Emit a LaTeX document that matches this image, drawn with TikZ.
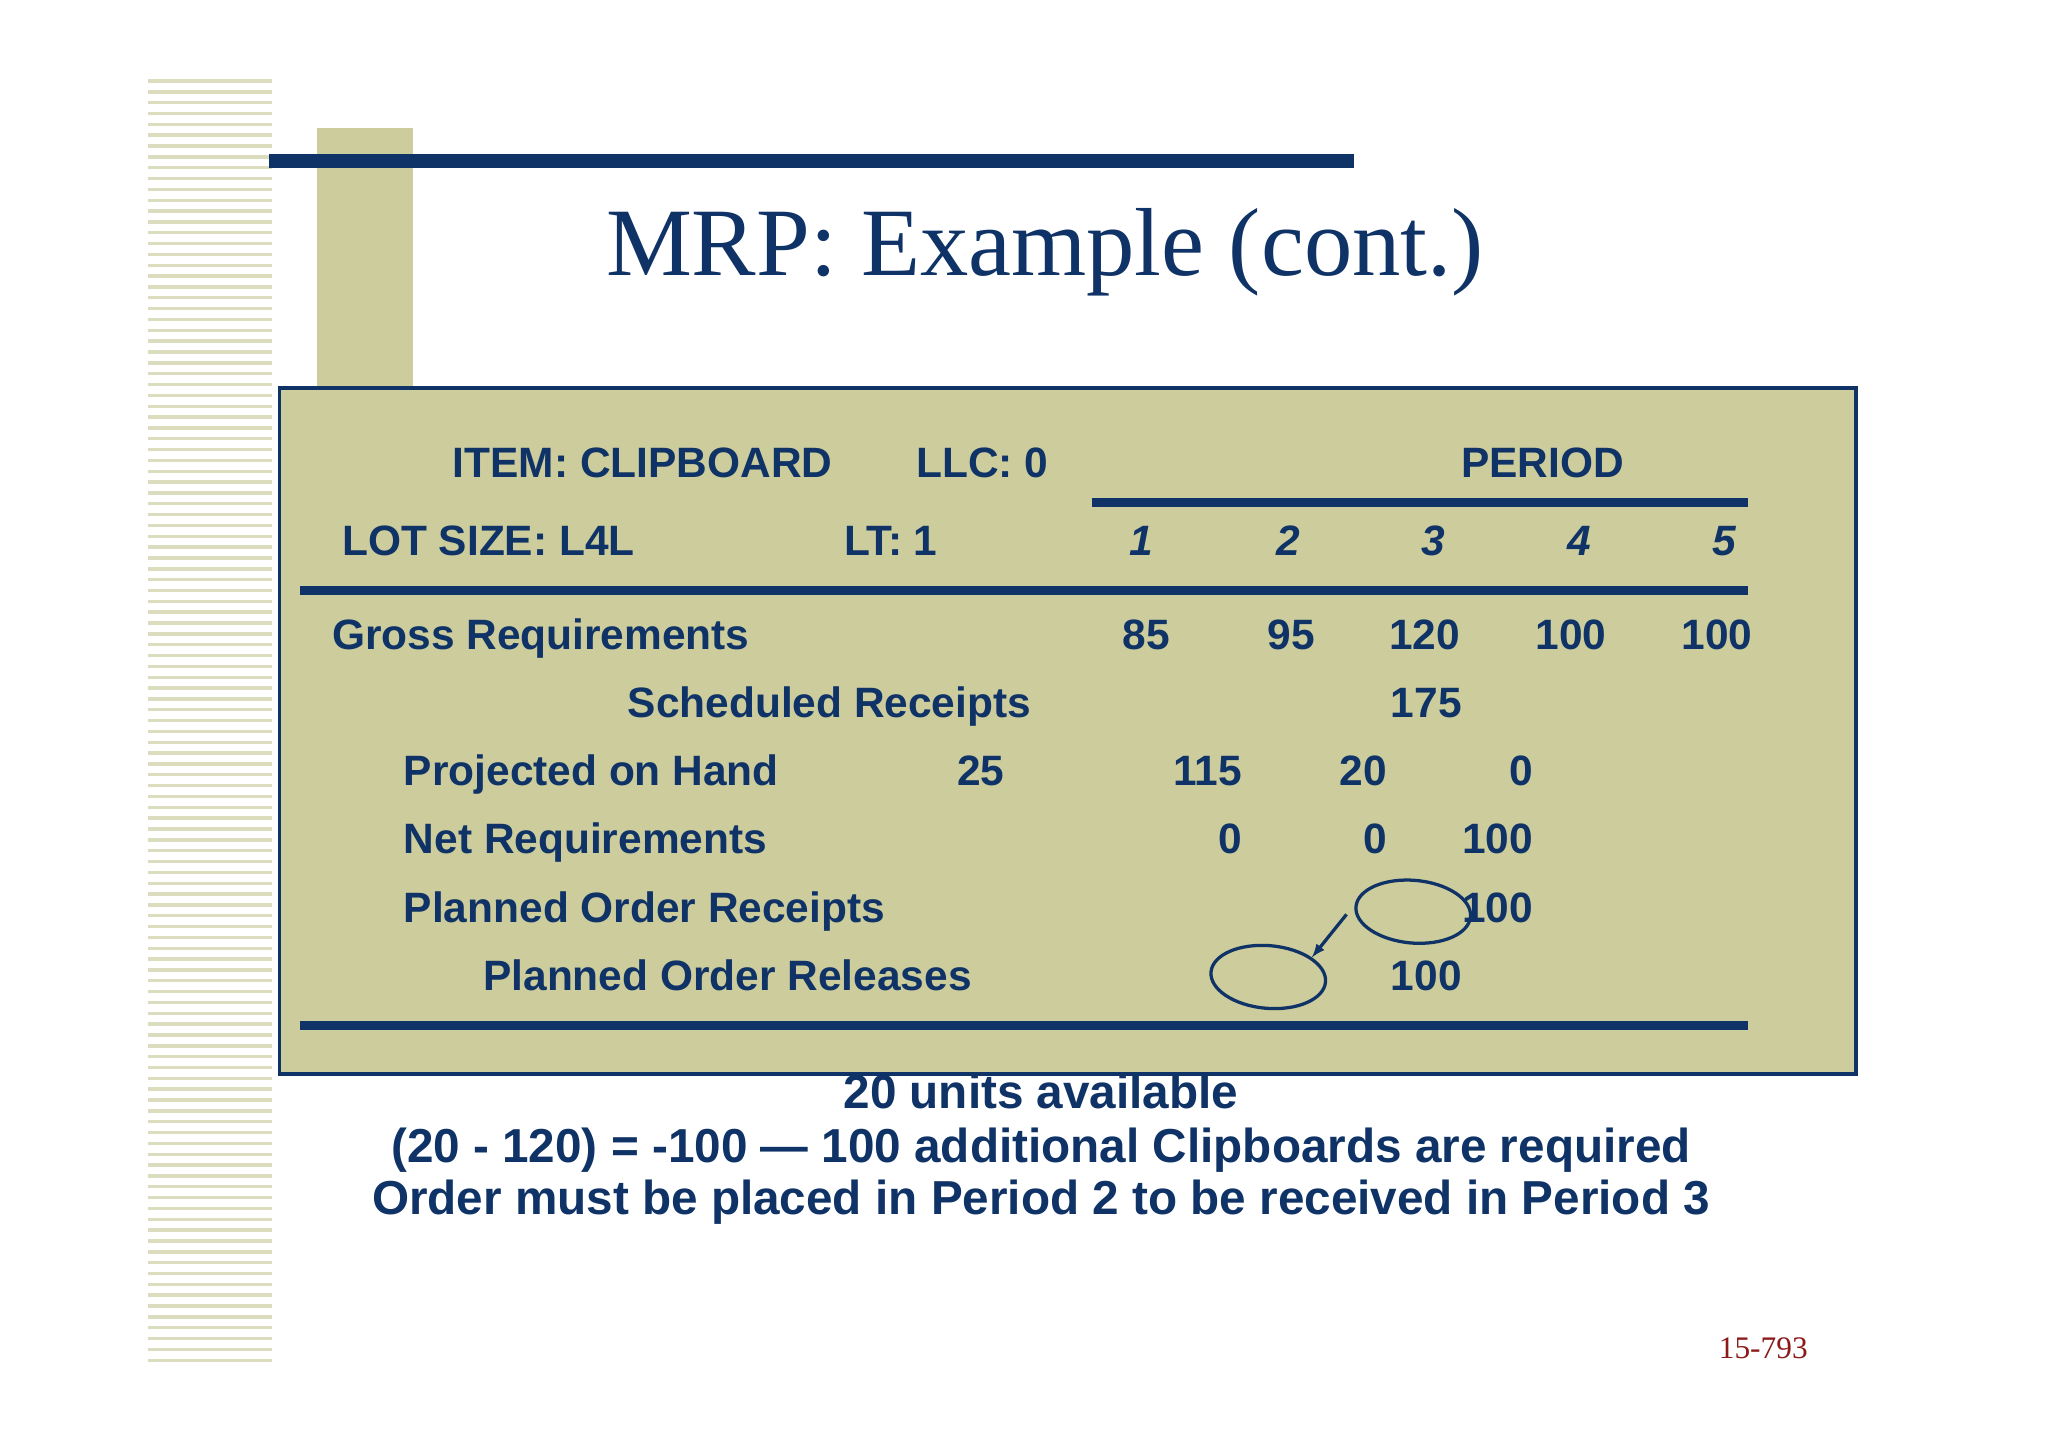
\documentclass[tikz,border=0pt]{standalone}
\usepackage{fontspec}
\setmainfont{Liberation Sans}
\newfontfamily\serifx{Liberation Serif}
\usetikzlibrary{shapes.geometric}
\definecolor{navy}{HTML}{0F3366}
\definecolor{olive}{HTML}{CCCC9C}
\definecolor{stripe}{HTML}{DCDDBE}
\definecolor{dred}{HTML}{8B1A1A}
\begin{document}
\begin{tikzpicture}[x=1pt,y=-1pt,
 tx/.style={font=\bfseries\fontsize{32.5}{34}\selectfont,text=navy,inner sep=0pt,text height=23pt,text depth=0pt},
 lt/.style={tx,anchor=west},
 rt/.style={tx,anchor=east},
 bt/.style={font=\bfseries\fontsize{36.5}{38}\selectfont,text=navy,inner sep=0pt,text height=26pt,text depth=0pt},
 circ/.style={ellipse,draw=navy,line width=2.5pt,minimum width=88pt,minimum height=48pt}]
\useasboundingbox (0,0) rectangle (1568,1108);
\fill[white] (0,0) rectangle (1568,1108);
% left stripes
\foreach \i in {0,...,118}{
  \pgfmathsetmacro\yy{62+\i*8.3}
  \draw[stripe,line width=2.6pt] (113,\yy) -- (208,\yy);
}
\fill[olive] (243,98) rectangle (316,296);
\fill[navy] (206,118) rectangle (1037,129);
\node[font=\serifx\fontsize{74}{80}\selectfont,text=navy] (title) at (800,193) {MRP: Example (cont.)};
% table
\draw[navy,line width=3pt,fill=olive] (214,297) rectangle (1421,822);
\draw[navy,line width=7pt] (836,385) -- (1338,385);
\draw[navy,line width=7pt] (230,452) -- (1338,452);
\draw[navy,line width=7pt] (230,785) -- (1338,785);
\node[tx] (item) at (492,354) {ITEM: CLIPBOARD};
\node[tx] (llc) at (752,354) {LLC: 0};
\node[tx] (per) at (1181,354) {PERIOD};
\node[tx] (lot) at (374,414) {LOT SIZE: L4L};
\node[tx] (lt) at (682,414) {LT: 1};
\foreach \n/\x in {1/874,2/986,3/1097,4/1209,5/1320}
  \node[tx,font=\bfseries\itshape\fontsize{32.5}{34}\selectfont] (p\n) at (\x,414) {\n};
\node[lt] (gr) at (254,486) {Gross Requirements};
\node[rt] (g1) at (896,486) {85};
\node[rt] (g2) at (1007,486) {95};
\node[rt] (g3) at (1118,486) {120};
\node[rt] (g4) at (1230,486) {100};
\node[rt] (g5) at (1342,486) {100};
\node[tx] (sr) at (635,538) {Scheduled Receipts};
\node[tx] (s3) at (1092,538) {175};
\node[lt] (ph) at (309,590) {Projected on Hand};
\node[tx] (h0) at (751,590) {25};
\node[rt] (h1) at (951,590) {115};
\node[rt] (h2) at (1062,590) {20};
\node[rt] (h3) at (1174,590) {0};
\node[lt] (nr) at (309,642) {Net Requirements};
\node[rt] (n1) at (951,642) {0};
\node[rt] (n2) at (1062,642) {0};
\node[rt] (n3) at (1174,642) {100};
\node[lt] (por) at (309,695) {Planned Order Receipts};
\node[rt] (r3) at (1174,695) {100};
\node[tx] (pol) at (557,747) {Planned Order Releases};
\node[tx] (l3) at (1092,747) {100};
\node[circ,rotate=-5] (c1) at (1082,698) {};
\node[circ,rotate=-5] (c2) at (971,748) {};
\draw[navy,line width=2.5pt,-latex] (c1.west) ++(-6,6) coordinate (a1) (a1) -- (c2.north east);
% bottom text
\node[bt] (b1) at (797,836) {20 units available};
\node[bt] (b2) at (797,877) {(20 - 120) = -100 — 100 additional Clipboards are required};
\node[bt] (b3) at (797,917) {Order must be placed in Period 2 to be received in Period 3};
\node[font=\serifx\fontsize{24}{26}\selectfont,text=dred] (pg) at (1350,1032) {15-793};
\end{tikzpicture}
\end{document}
